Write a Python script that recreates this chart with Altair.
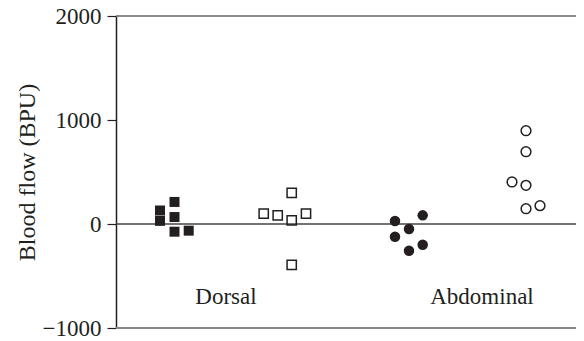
import altair as alt
import pandas as pd

# Data
dorsal_filled_x = [0.44, 0.44, 0.585, 0.585, 0.585, 0.727]
dorsal_filled_y = [130, 30, 212, 67, -74, -64]
dorsal_open_x = [1.477, 1.617, 1.757, 1.757, 1.757, 1.90]
dorsal_open_y = [99, 83, 300, 35, -394, 99]
abd_filled_x = [2.79, 2.79, 2.93, 2.93, 3.067, 3.067]
abd_filled_y = [29, -122, -48, -257, 83, -199]
abd_open_x = [4.10, 4.10, 4.10, 4.10, 3.96, 4.24]
abd_open_y = [897, 695, 372, 147, 404, 176]

group_labels = ["Dorsal", "Abdominal"]
group_label_x = [1.10, 3.66]
group_label_y = [-702, -702]

y_ticks = [-1000, 0, 1000, 2000]

INK = "#231f20"
FONT = "Liberation Serif"

def frame(xs, ys, name):
    return pd.DataFrame({"x": xs, "y": ys, "series": name})

# plot spans 460 px, at 100 px per unit
xscale = alt.Scale(domain=[0, 4.6], nice=False, zero=False)
yscale = alt.Scale(domain=[-1000, 2000], nice=False)

X = alt.X("x:Q", scale=xscale, axis=None)
Y = alt.Y("y:Q", scale=yscale,
          axis=alt.Axis(values=y_ticks, format="d", title="Blood flow (BPU)", grid=False,
                        domainColor=INK, domainWidth=1.5, tickColor=INK, tickSize=9,
                        tickWidth=1.2,
                        labelFont=FONT, labelFontSize=23, labelColor=INK,
                        labelPadding=6,
                        titleFont=FONT, titleFontSize=24, titleFontWeight="normal",
                        titleColor=INK, titlePadding=3))

zero_line = alt.Chart(pd.DataFrame({"y": [0]})).mark_rule(color="#444", strokeWidth=1.3).encode(y=Y)
top_line = alt.Chart(pd.DataFrame({"y": [2000]})).mark_rule(color="#666", strokeWidth=1.6).encode(y=Y)
bottom_line = alt.Chart(pd.DataFrame({"y": [-1000]})).mark_rule(color="#888", strokeWidth=2).encode(y=Y)

sq_f = alt.Chart(frame(dorsal_filled_x, dorsal_filled_y, "df")).mark_point(
    shape="square", filled=True, size=100, color=INK, opacity=1).encode(x=X, y=Y)
sq_o = alt.Chart(frame(dorsal_open_x, dorsal_open_y, "do")).mark_point(
    shape="square", filled=False, size=85, color=INK, strokeWidth=1.5, opacity=1).encode(x=X, y=Y)
ci_f = alt.Chart(frame(abd_filled_x, abd_filled_y, "af")).mark_point(
    shape="circle", filled=True, size=110, color=INK, opacity=1).encode(x=X, y=Y)
ci_o = alt.Chart(frame(abd_open_x, abd_open_y, "ao")).mark_point(
    shape="circle", filled=False, size=95, color=INK, strokeWidth=1.5, opacity=1).encode(x=X, y=Y)

labels = alt.Chart(pd.DataFrame({"x": group_label_x, "y": group_label_y, "t": group_labels})).mark_text(
    font=FONT, fontSize=23, color=INK, align="center", baseline="middle").encode(x=X, y=Y, text="t:N")

chart = alt.layer(top_line, bottom_line, zero_line, sq_f, sq_o, ci_f, ci_o, labels).properties(
    width=460, height=312,
    autosize=alt.AutoSizeParams(type="none"),
    padding={"left": 108, "top": 8, "right": 0, "bottom": 13},
    background="white",
).configure_view(stroke=None)

chart.save("out.html", embed_options={"renderer": "svg", "actions": False})
